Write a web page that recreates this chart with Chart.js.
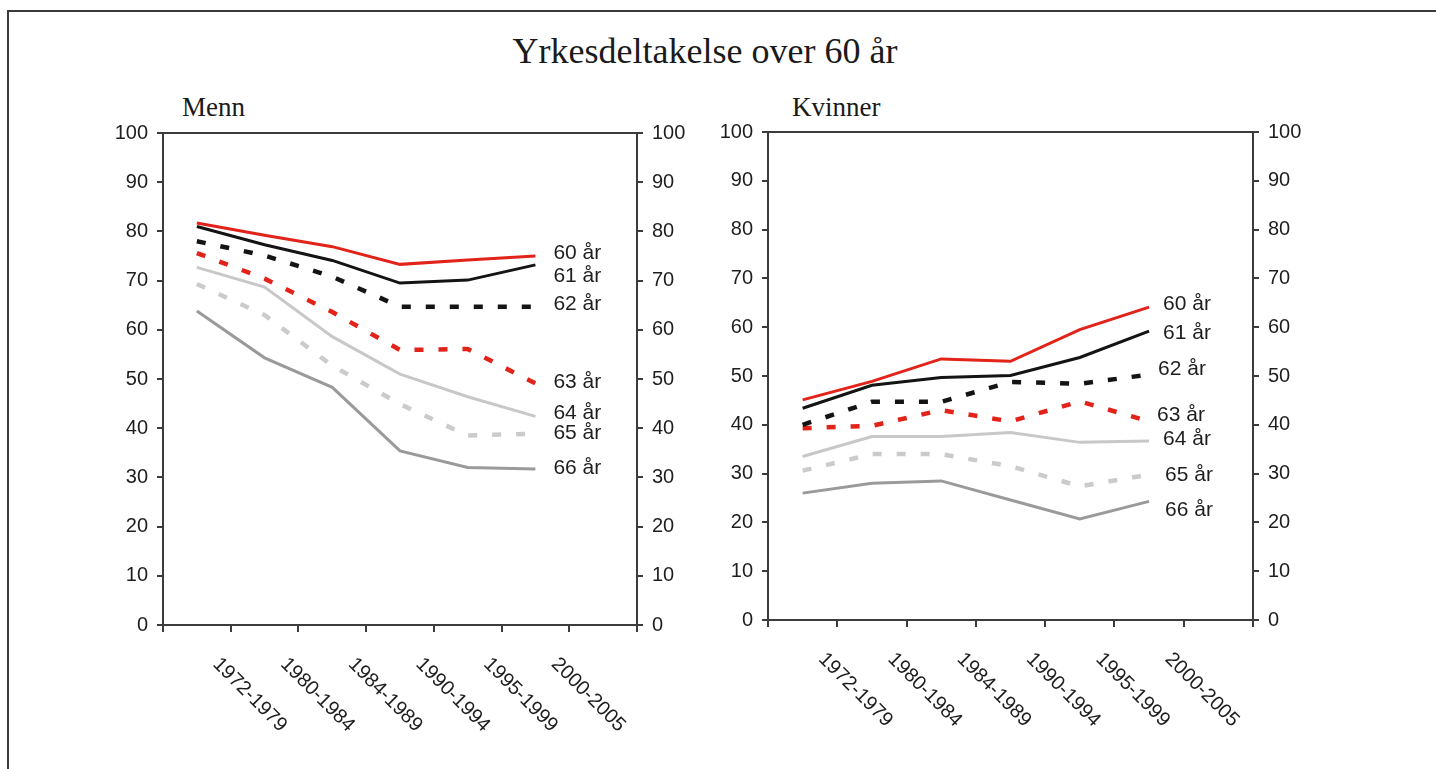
<!DOCTYPE html>
<html>
<head>
<meta charset="utf-8">
<script src="https://cdn.jsdelivr.net/npm/chart.js@4.4.0/dist/chart.umd.min.js"></script>
<style>
  body { margin: 0; background: #fff; width: 1436px; height: 769px; overflow: hidden; position: relative; }
  #frame { position: absolute; left: 7px; top: 10px; right: 0; bottom: 0; border-top: 2px solid #3a3a3a; border-left: 2px solid #3a3a3a; }
  .ttl { position: absolute; font-family: "Liberation Serif", "Times New Roman", serif; color: #1a1a1a; line-height: 1; white-space: nowrap; }
  #main { left: 405px; width: 600px; top: 33px; font-size: 36px; text-align: center; }
  #menn { left: 182px; top: 94px; font-size: 27px; }
  #kvinner { left: 792px; top: 94px; font-size: 27px; }
  canvas { position: absolute; top: 0; }
  #men { left: 0; }
  #women { left: 700px; }
</style>
</head>
<body>
<div id="frame"></div>
<div class="ttl" id="main">Yrkesdeltakelse over 60 år</div>
<div class="ttl" id="menn">Menn</div>
<div class="ttl" id="kvinner">Kvinner</div>
<canvas id="men" width="700" height="769"></canvas>
<canvas id="women" width="736" height="769"></canvas>

<script>
// perioder
const periods = ['1972-1979', '1980-1984', '1984-1989', '1990-1994', '1995-1999', '2000-2005'];
const ageLabels = ['60 år', '61 år', '62 år', '63 år', '64 år', '65 år', '66 år'];

// Menn
const men60 = [81.7, 79.2, 76.9, 73.3, 74.2, 75.0];
const men61 = [81.0, 77.3, 74.1, 69.5, 70.1, 73.2];
const men62 = [78.0, 75.1, 70.8, 64.7, 64.7, 64.7];
const men63 = [75.6, 70.4, 63.6, 55.9, 56.1, 49.1];
const men64 = [72.7, 68.7, 58.6, 51.0, 46.4, 42.4];
const men65 = [69.3, 63.0, 52.7, 44.9, 38.5, 38.9];
const men66 = [63.8, 54.3, 48.3, 35.4, 32.0, 31.7];

// Kvinner
const women60 = [45.1, 48.9, 53.5, 53.0, 59.5, 64.1];
const women61 = [43.4, 48.1, 49.7, 50.1, 53.8, 59.2];
const women62 = [40.0, 44.7, 44.7, 48.8, 48.4, 50.3];
const women63 = [39.3, 39.8, 43.0, 40.7, 44.8, 40.7];
const women64 = [33.5, 37.6, 37.6, 38.4, 36.4, 36.7];
const women65 = [30.6, 34.0, 34.0, 31.5, 27.4, 29.8];
const women66 = [26.0, 28.0, 28.5, 24.6, 20.7, 24.3];

const yTicks = [0, 10, 20, 30, 40, 50, 60, 70, 80, 90, 100];

// linjestiler: 60..66 år
const lineColors = ['#e2231a', '#141414', '#141414', '#e2231a', '#c8c8c8', '#cbcbcb', '#9a9a9a'];
const lineWidths = [3, 3, 4.5, 4.5, 3, 4.5, 3];
const lineDashes = [[], [], [9, 15], [9, 15], [], [9, 15], []];

const axisColor = '#3c3c3c';
const textColor = '#1e1e1e';
const sansFont = '"Liberation Sans", Arial, sans-serif';

function makeDatasets(series) {
    return series.map((vals, i) => ({
        label: ageLabels[i],
        data: vals,
        xAxisID: 'x',
        yAxisID: 'yL',
        borderColor: lineColors[i],
        borderWidth: lineWidths[i],
        borderDash: lineDashes[i],
        borderCapStyle: 'butt',
        pointRadius: 0,
        tension: 0,
        fill: false
    }));
}

// etiketter ved linjeslutt
const endLabels = {
    id: 'endLabels',
    afterDatasetsDraw(chart, args, opts) {
        const ctx = chart.ctx;
        const xs = chart.scales.x, ys = chart.scales.yL;
        ctx.save();
        ctx.font = '21px ' + sansFont;
        ctx.fillStyle = textColor;
        ctx.textBaseline = 'middle';
        ctx.textAlign = 'left';
        chart.data.datasets.forEach((ds, i) => {
            const last = ds.data.length - 1;
            const x = xs.getPixelForValue(last) + opts.dx + (opts.nudgeX[i] || 0);
            const y = ys.getPixelForValue(ds.data[last]) + (opts.nudgeY[i] || 0);
            ctx.fillText(ds.label, x, y);
        });
        ctx.restore();
    }
};

// skrå periodeetiketter (45 grader nedover)
const slantLabels = {
    id: 'slantLabels',
    afterDraw(chart) {
        const ctx = chart.ctx;
        const xs = chart.scales.x;
        ctx.save();
        ctx.font = '20px ' + sansFont;
        ctx.fillStyle = textColor;
        ctx.textAlign = 'left';
        ctx.textBaseline = 'middle';
        periods.forEach((p, i) => {
            ctx.save();
            ctx.translate(xs.getPixelForValue(i) + 19, xs.top + 36);
            ctx.rotate(Math.PI / 4);
            ctx.fillText(p, 0, 0);
            ctx.restore();
        });
        ctx.restore();
    }
};

function yAxis(pos, width) {
    return {
        type: 'linear',
        position: pos,
        min: 0,
        max: 100,
        afterBuildTicks: s => { s.ticks = yTicks.map(v => ({ value: v })); },
        ticks: { font: { size: 20, family: sansFont }, color: textColor, padding: 9 },
        grid: { drawOnChartArea: false, tickLength: 6, color: axisColor, lineWidth: 2 },
        border: { display: true, color: axisColor, width: 2 },
        afterFit: s => { s.width = width; }
    };
}

function makeChart(id, series, geo) {
    return new Chart(document.getElementById(id), {
        type: 'line',
        data: {
            labels: periods.concat(['']),
            datasets: makeDatasets(series)
        },
        options: {
            responsive: false,
            animation: false,
            devicePixelRatio: 1,
            layout: { padding: { top: geo.top, left: 0, right: 0, bottom: 0 } },
            plugins: {
                legend: { display: false },
                tooltip: { enabled: false },
                endLabels: { dx: geo.labelDx, nudgeX: geo.nudgeX, nudgeY: geo.nudgeY }
            },
            scales: {
                x: {
                    type: 'category',
                    position: 'bottom',
                    offset: true,
                    ticks: { display: false },
                    grid: { offset: true, drawOnChartArea: false, tickLength: 7, color: axisColor, lineWidth: 2 },
                    border: { display: true, color: axisColor, width: 2 },
                    afterFit: s => { s.height = geo.bottom; }
                },
                xTop: {
                    type: 'category',
                    position: 'top',
                    offset: true,
                    ticks: { display: false },
                    grid: { display: false, drawTicks: false },
                    border: { display: true, color: axisColor, width: 2 },
                    afterFit: s => { s.height = 0; }
                },
                yL: yAxis('left', geo.left),
                yR: yAxis('right', geo.right)
            }
        },
        plugins: [endLabels, slantLabels]
    });
}

makeChart('men', [men60, men61, men62, men63, men64, men65, men66], {
    top: 133, bottom: 144, left: 163, right: 63,
    labelDx: 18, nudgeX: [0, 0, 0, 0, 0, 0, 0], nudgeY: [-3, 11, -2, -1, -3, 0, -1]
});

makeChart('women', [women60, women61, women62, women63, women64, women65, women66], {
    top: 132, bottom: 149, left: 68, right: 183,
    labelDx: 14, nudgeX: [0, 0, -5, -6, 0, 2, 2], nudgeY: [-3, 2, -5, -6, -2, 1, 9]
});
</script>
</body>
</html>
